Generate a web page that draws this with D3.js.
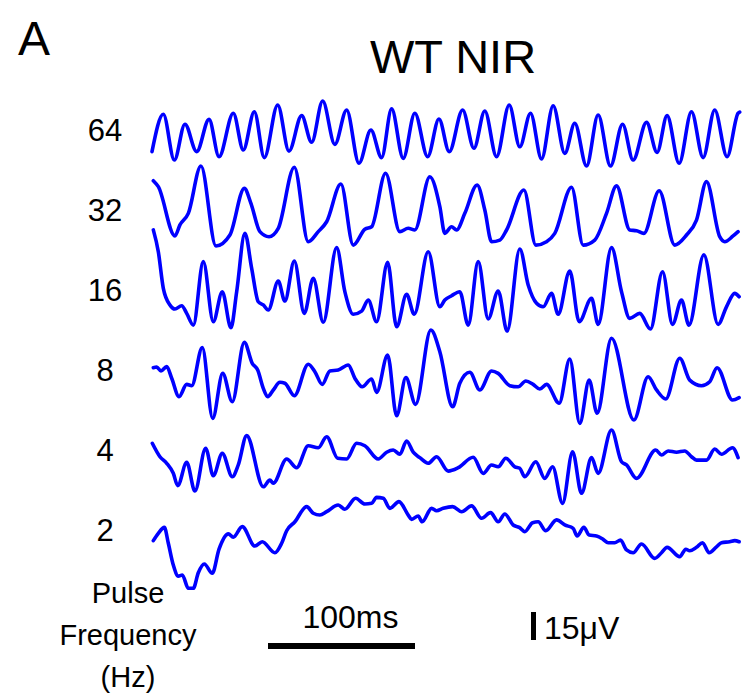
<!DOCTYPE html>
<html>
<head>
<meta charset="utf-8">
<script src="https://cdn.jsdelivr.net/npm/d3@7"></script>
<style>
  body { margin: 0; background: #fff; }
  svg text { font-family: Arial, "Liberation Sans", sans-serif; fill: #000; }
</style>
</head>
<body>
<svg id="chart" width="744" height="698"></svg>
<script>
// pulse frequencies (row labels), top to bottom
const freqs = ["64", "32", "16", "8", "4", "2"];

// traces: [time ms, amplitude µV]
const trace64 = [[0,-11.6],[7.7,8.4],[15.2,-16.1],[22.4,3.1],[30.4,-11.6],[38.8,5.7],[45.6,-14.3],[55.3,9.0],[62.1,-10.7],[69.6,9.8],[76.4,-14.8],[85.5,13.4],[93.2,-11.3],[101.8,7.7],[108.6,-6.6],[116.1,15.5],[124.4,-7.7],[132.4,10.7],[140.8,-17.8],[148.9,0],[156.2,-14.8],[163.0,11.3],[170.9,-15.2],[178.8,9.0],[187.5,-14.3],[195.2,5.9],[202.2,-11.6],[211.3,10.7],[219.0,-9.8],[226.4,10.2],[234.4,-14.3],[243.0,13.4],[250.2,-9.0],[257.5,9.0],[265.0,-15.5],[272.9,13.0],[280.8,-12.5],[287.6,3.6],[295.6,-19.3],[303.5,8.0],[311.9,-19.3],[320.1,3.1],[327.3,-16.1],[336.4,4.1],[343.6,-12.0],[350.4,7.7],[358.6,-17.8],[367.0,9.8],[374.9,-14.8],[382.8,10.7],[391.2,-14.3],[398.7,9.0],[399.8,9.6]];

const trace32 = [[0.9,15.7],[4.3,12.5],[15.6,-13.9],[19.0,-8.0],[24.7,-1.8],[33.3,23.6],[43.5,-19.3],[53.0,-13.4],[62.8,11.6],[67.3,3.6],[73.4,-11.6],[79.6,-14.3],[85.9,-9.8],[96.8,22.9],[106.3,-17.0],[113.1,-11.6],[118.8,-6.3],[128.5,13.9],[136.9,-18.8],[144.8,-10.3],[149.4,-9.0],[158.9,19.7],[168.6,-11.6],[174.3,-9.8],[178.8,-10.7],[189.0,17.8],[195.8,1.8],[199.2,-12.5],[203.8,-9.0],[207.2,-10.7],[212.8,-1.8],[221.2,13.4],[226.4,0],[231.0,-17.0],[236.6,-16.1],[241.2,-10.7],[253.0,10.7],[261.1,-18.8],[268.4,-17.0],[274.0,-12.5],[285.4,12.2],[293.3,-18.8],[301.2,-16.1],[309.2,-1.8],[316.0,12.9],[325.0,-10.7],[329.6,-11.1],[334.6,-12.5],[345.0,10.3],[355.6,-18.8],[363.6,-13.4],[370.4,-5.4],[377.2,15.2],[386.2,-14.3],[389.6,-17.0],[395.3,-13.9],[398.7,-11.6]];

const trace16 = [[0.9,32.2],[4.3,20.5],[7.7,0.9],[12.2,-8.0],[15.6,-10.2],[20.2,-8.4],[23.6,-12.5],[28.1,-18.8],[34.9,15.2],[41.7,-17.0],[47.8,-0.9],[53.7,-20.2],[57.6,-0.9],[63.2,30.4],[67.8,11.6],[72.3,-6.3],[75.7,-8.0],[79.1,-10.7],[85.9,4.8],[90.4,-5.9],[96.8,15.5],[103.6,-12.5],[109.7,6.3],[116.5,-17.3],[125.6,22.7],[131.2,-0.9],[136.9,-13.0],[142.6,-11.3],[147.1,-5.4],[152.8,-17.0],[160.3,14.8],[166.4,-19.7],[173.2,-2.3],[178.4,-13.0],[187.9,20.5],[195.8,-9.0],[199.2,-5.4],[203.8,-3.1],[209.4,-0.9],[215.1,-18.8],[221.9,15.2],[228.7,-15.5],[235.5,-0.5],[241.6,-22.0],[250.2,22.0],[255.9,2.7],[261.6,-7.1],[266.1,-9.0],[271.8,-1.8],[276.3,-13.0],[284.2,10.2],[290.6,-17.0],[299.0,-4.4],[303.5,-18.4],[312.6,22.7],[319.4,-0.9],[325.0,-15.2],[331.8,-12.5],[339.1,-20.9],[347.3,9.8],[354.1,-18.4],[360.2,-5.4],[365.3,-18.8],[375.4,18.8],[385.1,-18.4],[390.8,-9.0],[396.4,-1.8],[399.4,-3.6]];

const trace8 = [[0.9,1.2],[3.2,1.6],[6.1,-0.5],[10.0,1.8],[13.4,-4.4],[18.4,-14.3],[23.6,-7.7],[27.0,-8.4],[34.2,12.0],[41.3,-25.9],[48.1,-1.8],[54.6,-17.0],[62.8,14.8],[68.2,3.6],[71.9,0],[75.7,-9.8],[78.7,-14.3],[82.5,-10.7],[87.0,-6.6],[90.4,-7.1],[96.8,-13.8],[106.3,3.1],[110.8,-0.9],[115.8,-7.7],[121.0,-0.5],[126.7,0],[133.5,2.7],[138.0,-4.4],[143.0,-9.0],[149.4,-4.8],[152.8,-12.0],[160.3,8.0],[166.4,-24.5],[172.7,-4.1],[179.3,-18.4],[189.7,21.4],[195.8,9.8],[204.5,-19.7],[209.4,-7.1],[216.2,-1.2],[223.0,-10.7],[231.0,-0.5],[235.5,-1.8],[243.4,-8.4],[249.1,-9.0],[254.3,-5.9],[259.3,-7.7],[263.8,-10.2],[268.4,-7.7],[277.0,-17.8],[284.2,5.9],[291.0,-28.6],[297.4,-5.4],[302.8,-23.2],[312.6,17.0],[327.8,-26.8],[337.5,-3.6],[343.2,-10.7],[349.5,-15.5],[359.0,6.3],[365.8,-5.4],[373.8,-8.4],[379.4,-6.3],[384.4,1.2],[394.9,-16.1],[399.4,-14.8]];

const trace4 = [[0.2,3.6],[5.4,-3.6],[10.0,-7.1],[14.5,-12.5],[17.5,-19.1],[23.6,-6.6],[29.2,-22.0],[36.5,0.9],[41.7,-13.8],[47.8,-1.8],[54.6,-14.3],[58.7,-8.0],[64.4,7.7],[75.7,-19.7],[80.2,-16.1],[82.5,-17.8],[91.6,-4.8],[98.4,-9.5],[106.3,2.3],[113.1,1.2],[118.8,7.1],[126.3,-4.4],[132.4,-4.8],[139.2,3.6],[144.8,2.3],[153.9,-4.8],[159.6,-1.2],[164.1,0],[168.6,-2.3],[173.2,4.8],[177.7,-1.2],[182.2,-4.1],[187.9,-7.1],[193.6,-3.6],[201.5,-11.3],[208.3,-9.5],[218.5,-3.9],[225.3,-12.5],[231.0,-8.0],[235.5,-9.0],[240.7,-4.4],[246.8,-9.0],[250.2,-9.8],[253.6,-14.3],[261.1,-6.3],[267.2,-15.2],[272.5,-9.0],[279.3,-28.6],[286.1,-0.9],[292.2,-23.2],[299.0,-4.1],[303.5,-12.5],[312.6,10.7],[319.4,-6.3],[322.8,-8.0],[329.6,-15.2],[342.7,0],[346.6,-2.7],[351.1,-0.5],[356.8,-1.2],[362.4,-0.5],[367.0,-3.6],[370.4,-5.4],[377.2,-5.4],[382.8,0.5],[387.4,-2.3],[394.9,1.2],[398.7,-4.1]];

const trace2 = [[0.9,-5.7],[4.3,-1.8],[8.4,1.4],[11.1,-7.1],[14.5,-18.8],[17.9,-24.7],[20.6,-24.1],[24.7,-31.2],[28.1,-31.2],[31.5,-22.9],[35.6,-18.2],[41.0,-23.2],[45.6,-10.3],[51.9,-2.1],[55.3,-3.9],[61.4,1.8],[70.0,-8.6],[75.0,-6.3],[83.6,-12.2],[88.2,-7.1],[91.6,-0.4],[97.2,4.4],[105.2,12.5],[109.7,9.0],[114.2,8.0],[118.8,9.8],[126.7,13.4],[131.2,11.1],[138.5,17.0],[144.8,13.9],[149.4,14.3],[152.8,17.5],[157.3,17.0],[161.8,11.6],[168.0,15.2],[174.3,8.0],[176.6,5.7],[181.1,7.5],[183.8,4.4],[190.2,11.6],[193.6,10.3],[198.1,11.6],[204.5,12.5],[210.6,9.8],[217.4,12.9],[224.2,6.3],[230.3,9.3],[235.5,4.4],[240.0,8.6],[245.7,2.7],[249.8,1.4],[253.6,-0.9],[258.9,3.9],[262.7,4.4],[267.9,-0.4],[275.2,5.4],[280.8,2.7],[286.5,0.9],[289.2,-3.2],[293.8,1.4],[297.4,-2.7],[302.4,-3.2],[306.9,-5.0],[310.3,-6.8],[314.8,-6.8],[318.7,-5.4],[322.8,-10.7],[327.3,-12.2],[333.0,-7.5],[342.0,-15.2],[346.6,-12.2],[350.4,-9.3],[359.0,-14.3],[363.1,-10.3],[365.8,-11.1],[370.4,-9.3],[374.5,-6.8],[379.0,-12.2],[384.0,-9.0],[387.4,-6.8],[393.0,-6.3],[396.4,-5.7],[399.4,-6.3]];

const traces = [trace64, trace32, trace16, trace8, trace4, trace2];

// scale bars
const barTime = 100;   // ms
const barVolt = 15;    // µV

const svg = d3.select("#chart");
const color = "#0000ff";

const x = d3.scaleLinear().domain([0, 400]).range([152, 740]);
const row = d3.scalePoint().domain(freqs).range([130, 530]);
const uv = d3.scaleLinear().domain([0, 15]).range([0, -28]);

const line = d3.line().curve(d3.curveMonotoneX);

traces.forEach((tr, i) => {
  const y0 = row(freqs[i]);
  svg.append("path")
    .attr("d", line.x(d => x(d[0])).y(d => y0 + uv(d[1]))(tr))
    .attr("fill", "none")
    .attr("stroke", color)
    .attr("stroke-width", 3.6)
    .attr("stroke-linejoin", "round")
    .attr("stroke-linecap", "round");
});

// row labels
svg.selectAll(".freq")
  .data(freqs)
  .enter().append("text")
  .attr("class", "freq")
  .attr("x", 105)
  .attr("y", d => row(d) + 11)
  .attr("text-anchor", "middle")
  .style("font-size", "31px")
  .text(d => d);

// panel letter + title
svg.append("text").attr("x", 18).attr("y", 55).style("font-size", "48px").text("A");
svg.append("text").attr("x", 453).attr("y", 73).attr("text-anchor", "middle")
  .style("font-size", "47px").text("WT NIR");

// axis caption
["Pulse", "Frequency", "(Hz)"].forEach((s, i) => {
  svg.append("text").attr("x", 128).attr("y", 603 + i * 42)
    .attr("text-anchor", "middle").style("font-size", "29px").text(s);
});

// time scale bar
const tb0 = 268;
svg.append("rect")
  .attr("x", tb0).attr("y", 643)
  .attr("width", x(barTime) - x(0)).attr("height", 6)
  .attr("fill", "#000");
svg.append("text").attr("x", tb0 + (x(barTime) - x(0)) / 2 + 9).attr("y", 628)
  .attr("text-anchor", "middle").style("font-size", "32px").text(barTime + "ms");

// voltage scale bar
svg.append("rect")
  .attr("x", 531).attr("y", 640 + uv(barVolt))
  .attr("width", 5).attr("height", -uv(barVolt))
  .attr("fill", "#000");
svg.append("text").attr("x", 544).attr("y", 639)
  .style("font-size", "32px").text(barVolt + "μV");
</script>
</body>
</html>
